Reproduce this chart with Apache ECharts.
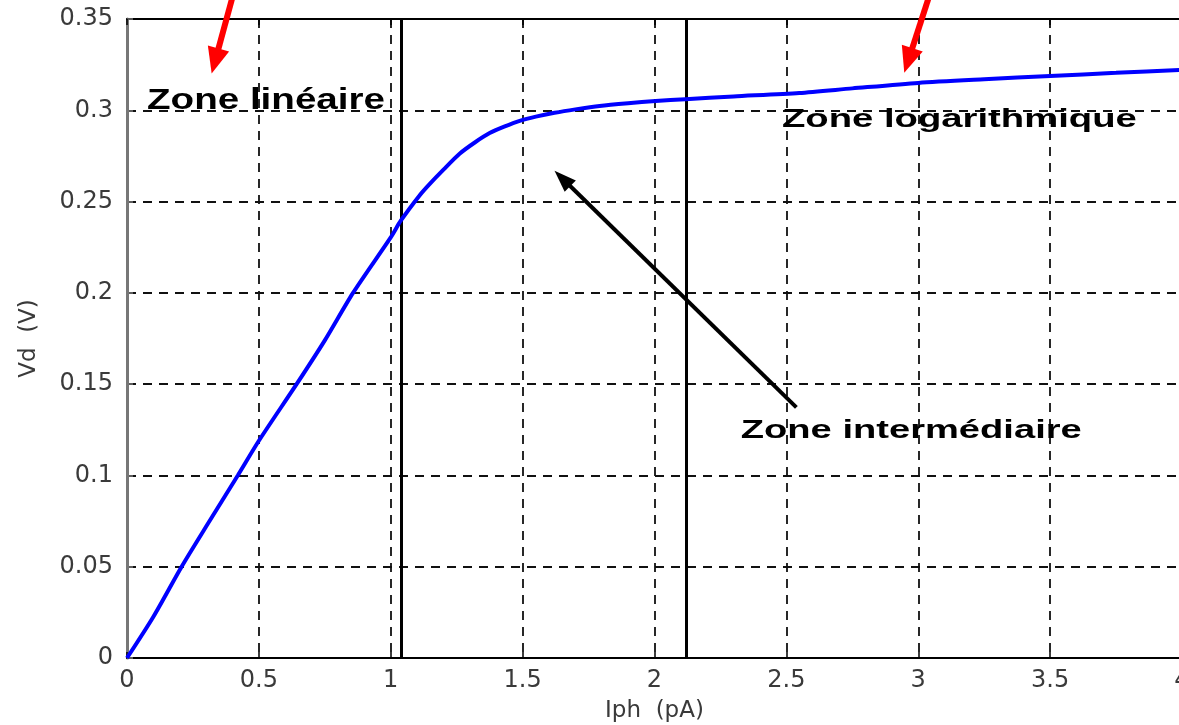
<!DOCTYPE html>
<html><head><meta charset="utf-8">
<script src="https://cdn.jsdelivr.net/npm/echarts@6/dist/echarts.min.js"></script>
<style>html,body{margin:0;padding:0;background:#fff;overflow:hidden}#c{width:1179px;height:725px}</style>
</head><body><div id="c"></div>
<script>
// ---- data ----
const iph = [0, 0.1, 0.207, 0.3, 0.42, 0.5, 0.643, 0.75, 0.857, 1.0, 1.038, 1.11, 1.148, 1.2, 1.261, 1.32, 1.375, 1.43, 1.489, 1.55, 1.621, 1.7, 1.792, 1.9, 2.004, 2.117, 2.3, 2.549, 2.75, 3.0, 3.25, 3.5, 3.75, 4.0];
const vd  = [0, 0.0226, 0.05, 0.072, 0.1, 0.119, 0.15, 0.174, 0.2, 0.2304, 0.2395, 0.2535, 0.2597, 0.2675, 0.2762, 0.2825, 0.2875, 0.291, 0.2942, 0.2965, 0.2986, 0.3005, 0.3024, 0.3039, 0.3051, 0.3061, 0.3076, 0.3095, 0.312, 0.315, 0.317, 0.3188, 0.3205, 0.3222];
const xTickLabels = ['0', '0.5', '1', '1.5', '2', '2.5', '3', '3.5', '4'];
const yTickLabels = ['0', '0.05', '0.1', '0.15', '0.2', '0.25', '0.3', '0.35'];
const zoneBounds = [1.04, 2.12];
const zoneNames = ['Zone linéaire', 'Zone logarithmique', 'Zone intermédiaire'];

const chart = echarts.init(document.getElementById('c'), null, {renderer: 'canvas'});
const gridLine = {show: true, lineStyle: {color: '#111', width: 1.8, type: [9, 7]}};
const tickFont = {fontSize: 24, color: '#3a3a3a', fontFamily: 'DejaVu Sans'};
const nameFont = {fontSize: 23, color: '#3a3a3a', fontFamily: 'DejaVu Sans'};

chart.setOption({
  animation: false,
  grid: {left: 127, top: 19, width: 1055, height: 639, containLabel: false, outerBoundsMode: 'none'},
  xAxis: [{
    type: 'value', min: 0, max: 4, interval: 0.5, position: 'bottom',
    axisLine: {show: true, onZero: false, lineStyle: {color: '#000', width: 2}},
    axisTick: {show: true, inside: true, length: 6, lineStyle: {color: '#000', width: 1.5}},
    axisLabel: Object.assign({margin: 11, formatter: v => xTickLabels[Math.round(v / 0.5)]}, tickFont),
    splitLine: gridLine,
    name: 'Iph  (pA)', nameLocation: 'middle', nameGap: 42, nameTextStyle: nameFont
  }, {
    type: 'value', min: 0, max: 4, interval: 0.5, position: 'top',
    axisLine: {show: true, onZero: false, lineStyle: {color: '#000', width: 2}},
    axisTick: {show: true, inside: true, length: 6, lineStyle: {color: '#000', width: 1.5}},
    axisLabel: {show: false}, splitLine: {show: false}
  }],
  yAxis: [{
    type: 'value', min: 0, max: 0.35, interval: 0.05,
    axisLine: {show: true, onZero: false, lineStyle: {color: '#777', width: 3}},
    axisTick: {show: true, inside: true, length: 6, lineStyle: {color: '#777', width: 1.5}},
    axisLabel: Object.assign({margin: 14, formatter: v => yTickLabels[Math.round(v / 0.05)]}, tickFont),
    splitLine: gridLine,
    name: 'Vd  (V)', nameLocation: 'middle', nameGap: 86, nameTextStyle: nameFont
  }],
  series: [{
    type: 'line', data: iph.map((x, i) => [x, vd[i]]),
    showSymbol: false, smooth: 0.25, silent: true, z: 5,
    lineStyle: {color: '#0000ff', width: 4},
    markLine: {
      symbol: 'none', silent: true, animation: false,
      label: {show: false},
      lineStyle: {color: '#000', width: 3, type: 'solid'},
      data: zoneBounds.map(b => ({xAxis: b}))
    }
  }]
});

// ---- annotations, placed through the chart's own scales ----
function px(p) { return chart.convertToPixel({gridIndex: 0}, p); }
function arrow(a, b, color, shaftW, headL, headW) {
  const p0 = px(a), p1 = px(b);
  const dx = p1[0] - p0[0], dy = p1[1] - p0[1], L = Math.hypot(dx, dy);
  const ux = dx / L, uy = dy / L, nx = -uy, ny = ux;
  const bx = p1[0] - ux * headL, by = p1[1] - uy * headL;
  return [
    {type: 'line', z: 100, shape: {x1: p0[0], y1: p0[1], x2: bx + ux * 3, y2: by + uy * 3}, style: {stroke: color, lineWidth: shaftW}},
    {type: 'polygon', z: 100, shape: {points: [[p1[0], p1[1]], [bx + nx * headW / 2, by + ny * headW / 2], [bx - nx * headW / 2, by - ny * headW / 2]]}, style: {fill: color}}
  ];
}
const mctx = document.createElement('canvas').getContext('2d');
function label(text, at, fontSize, targetW) {
  const font = 'bold ' + fontSize + 'px "Liberation Sans", Arial, sans-serif';
  mctx.font = font;
  const w = mctx.measureText(text).width;
  const p = px(at);
  return {type: 'text', z: 100, x: p[0], y: p[1], scaleX: targetW / w,
    style: {text: text, font: font, fill: '#000', align: 'left', verticalAlign: 'middle'}};
}
const g = [].concat(
  arrow([0.398, 0.361], [0.321, 0.3201], '#ff0000', 6, 26, 22),
  arrow([3.038, 0.361], [2.947, 0.3205], '#ff0000', 6, 26, 22),
  arrow([2.538, 0.1373], [1.621, 0.2669], '#000', 4, 22, 16),
  [label(zoneNames[0], [0.0758, 0.3052], 29, 238),
   label(zoneNames[1], [2.483, 0.2950], 26, 355),
   label(zoneNames[2], [2.327, 0.1244], 25, 341)]
);
chart.setOption({graphic: g});
</script></body></html>
